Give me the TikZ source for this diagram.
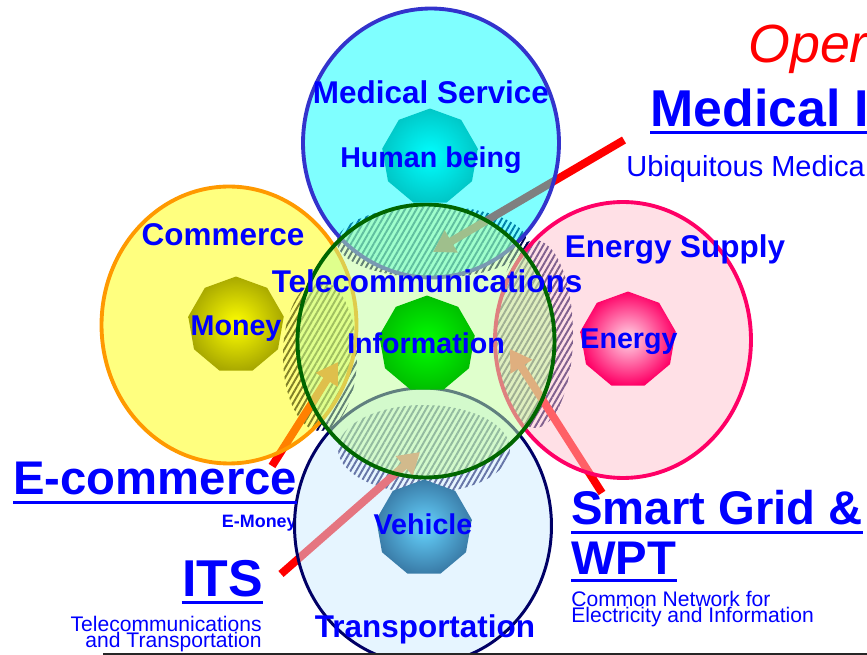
\documentclass[tikz,border=0pt]{standalone}
\usepackage{fontspec}
\setmainfont{Liberation Sans}
\usetikzlibrary{arrows.meta,shapes.geometric,patterns.meta}
\definecolor{txtblue}{HTML}{0000FF}
\definecolor{medfill}{HTML}{00FFFF}
\definecolor{medline}{HTML}{3333CC}
\definecolor{comfill}{HTML}{FFFF00}
\definecolor{comline}{HTML}{FF9900}
\definecolor{enefill}{HTML}{FFC1CD}
\definecolor{eneline}{HTML}{FF0066}
\definecolor{trafill}{HTML}{CDEBFF}
\definecolor{traline}{HTML}{000066}
\definecolor{telfill}{HTML}{C0FF99}
\definecolor{telline}{HTML}{006600}
\definecolor{hatchnavy}{HTML}{000050}
\definecolor{vehin}{HTML}{66D4FF}
\definecolor{vehout}{HTML}{3A7CA8}

\begin{document}
\begin{tikzpicture}[x=0.02cm,y=-0.02cm,
  ring/.style={ellipse,inner sep=0pt,line width=2.2pt,fill opacity=0.5},
  lens/.style={ellipse,inner sep=0pt,
    pattern={Lines[angle=60,distance=2.8pt,line width=1.1pt]},pattern color=hatchnavy},
  blob/.style={regular polygon,regular polygon sides=9,minimum size=1.94cm,inner sep=0pt},
  arr/.style={red,line width=4.5pt,-{Triangle[length=12pt,width=14pt]}},
  dom/.style={text=txtblue,font=\fontsize{17.9}{20}\selectfont\bfseries,anchor=base,inner sep=0pt},
  core/.style={text=txtblue,font=\fontsize{16.3}{18}\selectfont\bfseries,anchor=base,inner sep=0pt},
  bigtag/.style={text=txtblue,font=\fontsize{26.9}{30}\selectfont\bfseries,inner sep=0pt},
  hugetag/.style={text=txtblue,font=\fontsize{29.5}{32}\selectfont\bfseries,inner sep=0pt},
  note/.style={text=txtblue,font=\fontsize{12}{12}\selectfont,inner sep=0pt},
  uline/.style={txtblue,line width=1.7pt}]
  \useasboundingbox (0,0) rectangle (867,655);
  \clip (0,0) rectangle (867,655);

  % hatched overlaps
  \node[lens,minimum width=3.8cm,minimum height=1.44cm] (toplens) at (432,242) {};
  \node[lens,minimum width=1.48cm,minimum height=3.0cm] (leftlens) at (320,356) {};
  \node[lens,minimum width=1.52cm,minimum height=3.76cm] (rightlens) at (535,334) {};
  \node[lens,minimum width=3.44cm,minimum height=1.76cm] (botlens) at (424,449) {};

  % arrows into the overlaps
  \coordinate (medtail) at (624,140);
  \coordinate (medtip) at (433,252);
  \coordinate (ecomtail) at (272,466);
  \coordinate (ecomtip) at (338,362);
  \coordinate (itstail) at (281,574);
  \coordinate (itstip) at (420,452);
  \coordinate (gridtail) at (602,493);
  \coordinate (gridtip) at (510,349);
  \draw[arr] (medtail) -- (medtip);
  \draw[arr] (ecomtail) -- (ecomtip);
  \draw[arr] (itstail) -- (itstip);
  \draw[arr] (gridtail) -- (gridtip);

  \node[text=txtblue,font=\fontsize{10.2}{12}\selectfont\bfseries,inner sep=0pt,
    anchor=base east] (emoney) at (297,528) {E-Money};

  % five fields
  \node[ring,draw=medline,fill=medfill,minimum width=5.12cm,minimum height=5.38cm] (medical) at (431,143) {};
  \node[ring,draw=comline,fill=comfill,minimum width=5.10cm,minimum height=5.54cm] (commerce) at (229,325) {};
  \node[ring,draw=eneline,fill=enefill,minimum width=5.12cm,minimum height=5.52cm] (energy) at (623,340) {};
  \node[ring,draw=traline,fill=trafill,line width=1.7pt,minimum width=5.14cm,minimum height=5.52cm] (transport) at (423,526) {};
  \node[ring,draw=telline,fill=telfill,minimum width=5.14cm,minimum height=5.46cm] (telecom) at (426,341) {};

  % cores
  \node[blob,inner color=cyan,outer color=cyan!78!black] (hblob) at (430,157) {};
  \node[blob,inner color=yellow,outer color=yellow!66!black] (mblob) at (236,325) {};
  \node[blob,inner color=green,outer color=green!75!black] (iblob) at (427,344) {};
  \node[blob,inner color=white!85!eneline,outer color=eneline] (eblob) at (628,340) {};
  \node[blob,inner color=vehin,outer color=vehout] (vblob) at (424,528) {};

  % field and core labels
  \node[dom] (medlbl) at (431,104) {Medical Service};
  \node[dom] (comlbl) at (223,246) {Commerce};
  \node[dom] (enelbl) at (675,258) {Energy Supply};
  \node[dom] (tralbl) at (425,638) {Transportation};
  \node[dom] (tellbl) at (427,293) {Telecommunications};
  \node[core] (humanlbl) at (431,168) {Human being};
  \node[core] (moneylbl) at (236,336) {Money};
  \node[core] (infolbl) at (426,354) {Information};
  \node[core] (energylbl) at (629,349) {Energy};
  \node[core] (vehiclelbl) at (423,535) {Vehicle};

  % applications
  \node[text=red,font=\fontsize{30.6}{34}\selectfont\itshape,inner sep=0pt,
    anchor=base west] (oper) at (748,63) {Oper};
  \node[hugetag,anchor=base west] (medtag) at (650,127) {Medical I};
  \draw[uline] ([yshift=-3.4pt]medtag.base west) -- ([yshift=-3.4pt]medtag.base east);
  \node[text=txtblue,font=\fontsize{16.5}{18}\selectfont,inner sep=0pt,
    anchor=base west] (ubiq) at (626,177) {Ubiquitous Medica};

  \node[bigtag,anchor=base west] (ecomtag) at (13,495) {E-commerce};
  \draw[uline] ([yshift=-4pt]ecomtag.base west) -- ([yshift=-4pt]ecomtag.base east);

  \node[hugetag,anchor=base east] (itstag) at (263,597) {ITS};
  \draw[uline] ([yshift=-3.4pt]itstag.base west) -- ([yshift=-3.4pt]itstag.base east);
  \node[note,anchor=base east] (itsnote) at (262,632) {Telecommunications};
  \node[note,anchor=base east] (itsnote2) at (262,648) {and Transportation};

  \node[bigtag,anchor=base west] (gridtag) at (571,525) {Smart Grid \&};
  \draw[uline] ([yshift=-4pt]gridtag.base west) -- ([yshift=-4pt]gridtag.base east);
  \node[bigtag,anchor=base west] (wpttag) at (571,575) {WPT};
  \draw[uline] ([yshift=-3pt]wpttag.base west) -- ([yshift=-3pt]wpttag.base east);
  \node[note,anchor=base west] (gridnote) at (571,607) {Common Network for};
  \node[note,anchor=base west] (gridnote2) at (571,623) {Electricity and Information};

  \draw[line width=1.7pt,black!85] (103,654) -- (867,654);
\end{tikzpicture}
\end{document}
